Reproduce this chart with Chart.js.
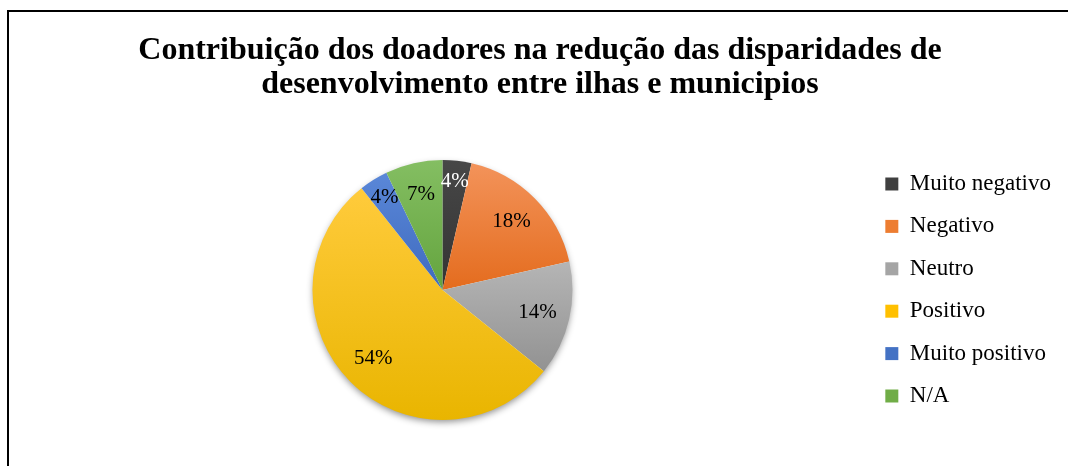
<!DOCTYPE html>
<html>
<head>
<meta charset="utf-8">
<script src="https://cdn.jsdelivr.net/npm/chart.js@4.4.0/dist/chart.umd.min.js"></script>
<style>
  html, body { margin: 0; padding: 0; background: #fff; }
  #wrap { position: relative; width: 1068px; height: 466px; overflow: hidden; }
  #frame { position: absolute; left: 7px; top: 10px; width: 1100px; height: 500px; border: 2px solid #000; pointer-events: none; }
</style>
</head>
<body>
<div id="wrap">
  <canvas id="chartPie" width="1068" height="466"></canvas>
  <div id="frame"></div>
</div>
<script>
// Data
const titleLines = [
  "Contribuição dos doadores na redução das disparidades de",
  "desenvolvimento entre ilhas e municipios"
];
const categories = ["Muito negativo", "Negativo", "Neutro", "Positivo", "Muito positivo", "N/A"];
const shares = [3.6, 17.9, 14.3, 53.6, 3.6, 7.1];
const shareLabels = ["4%", "18%", "14%", "54%", "4%", "7%"];

// Colours (Office palette, light top -> dark bottom)
const baseColors = ["#404040", "#ED7D31", "#A5A5A5", "#FFC000", "#4472C4", "#70AD47"];
const topColors = ["#474747", "#F3935A", "#B5B5B5", "#FFCB3C", "#5A87D8", "#84BE62"];
const bottomColors = ["#343434", "#E46C1E", "#929292", "#E9B500", "#3F6BBF", "#64A43E"];
const labelColors = ["#fff", "#000", "#000", "#000", "#000", "#000"];

const serif = "'Liberation Serif', 'Times New Roman', serif";

// shadow under the pie + vertical gradient on each slice
const sliceShade = {
  id: "sliceShade",
  beforeDatasetsDraw(chart) {
    const arcs = chart.getDatasetMeta(0).data;
    if (!arcs.length) return;
    const ctx = chart.ctx;
    const a = arcs[0];
    ctx.save();
    ctx.shadowColor = "rgba(0,0,0,0.45)";
    ctx.shadowBlur = 7;
    ctx.shadowOffsetY = 3;
    ctx.beginPath();
    ctx.arc(a.x, a.y, a.outerRadius - 1, 0, Math.PI * 2);
    ctx.fillStyle = "#fff";
    ctx.fill();
    ctx.restore();

    arcs.forEach((el, i) => {
      let top = el.y, bot = el.y;
      for (let k = 0; k <= 40; k++) {
        const t = el.startAngle + (el.endAngle - el.startAngle) * k / 40;
        const y = el.y + Math.sin(t) * el.outerRadius;
        top = Math.min(top, y);
        bot = Math.max(bot, y);
      }
      const g = ctx.createLinearGradient(0, top, 0, bot);
      g.addColorStop(0, topColors[i]);
      g.addColorStop(1, bottomColors[i]);
      try { el.options.backgroundColor = g; } catch (e) {}
    });
  }
};

// percentage labels inside the slices
const sliceLabels = {
  id: "sliceLabels",
  afterDatasetsDraw(chart) {
    const ctx = chart.ctx;
    ctx.save();
    ctx.font = "21px " + serif;
    ctx.textAlign = "center";
    ctx.textBaseline = "middle";
    chart.getDatasetMeta(0).data.forEach((el, i) => {
      const mid = (el.startAngle + el.endAngle) / 2;
      const f = shares[i] < 6 ? 0.84 : 0.75;
      const x = el.x + Math.cos(mid) * el.outerRadius * f;
      const y = el.y + Math.sin(mid) * el.outerRadius * f;
      ctx.fillStyle = labelColors[i];
      ctx.fillText(shareLabels[i], x, y);
    });
    ctx.restore();
  }
};

new Chart(document.getElementById("chartPie"), {
  type: "pie",
  data: {
    labels: categories,
    datasets: [{ data: shares, backgroundColor: baseColors, borderWidth: 0, radius: 130 }]
  },
  options: {
    responsive: false,
    animation: false,
    events: [],
    layout: { padding: { left: 19, right: 7, top: 0, bottom: 36 } },
    plugins: {
      title: {
        display: true,
        text: titleLines,
        color: "#000",
        font: { family: serif, size: 32, weight: "bold", lineHeight: 1.0625 },
        padding: { top: 34, bottom: 48 }
      },
      legend: {
        position: "right",
        fullSize: false,
        align: "center",
        labels: {
          boxWidth: 13,
          boxHeight: 13,
          padding: 19.4,
          color: "#000",
          font: { family: serif, size: 23 }
        }
      },
      tooltip: { enabled: false }
    }
  },
  plugins: [sliceShade, sliceLabels]
});
</script>
</body>
</html>
